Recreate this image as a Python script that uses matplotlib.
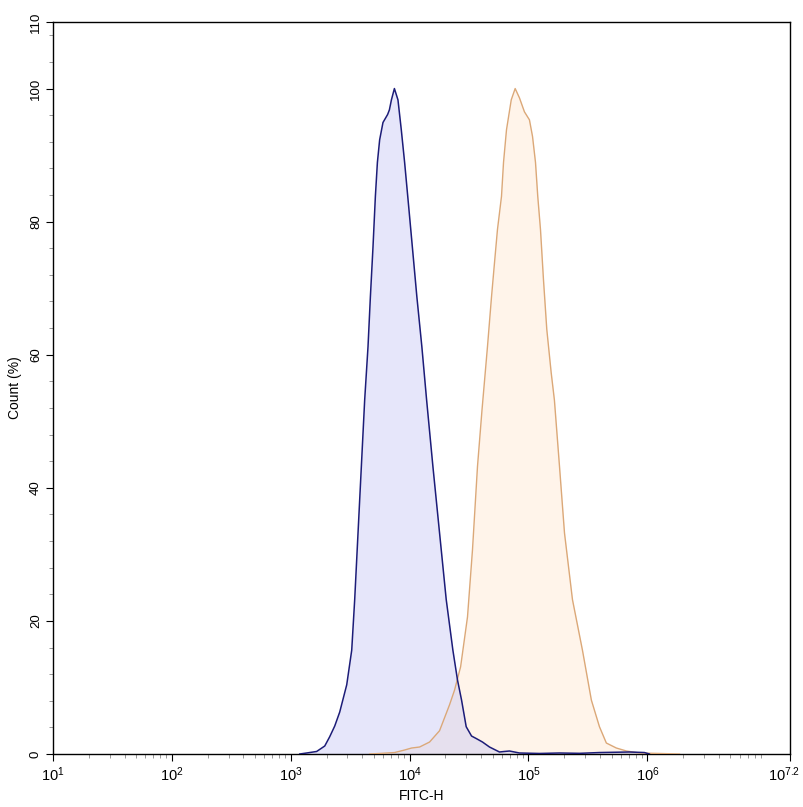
import numpy as np
import matplotlib
matplotlib.use("Agg")
import matplotlib.pyplot as plt
import matplotlib.transforms as mtransforms
from matplotlib.ticker import FixedLocator, NullFormatter, MultipleLocator

plt.rcParams['font.family'] = ['Liberation Sans', 'DejaVu Sans']
plt.rcParams['mathtext.fontset'] = 'custom'
plt.rcParams['mathtext.rm'] = 'Liberation Sans'
plt.rcParams['mathtext.it'] = 'Liberation Sans'

# Data (x as log10 of FITC-H, y as Count %)
blue_log = [3.076, 3.134, 3.218, 3.286, 3.328, 3.370, 3.412, 3.471, 3.513, 3.538,
            3.566, 3.594, 3.622, 3.650, 3.670, 3.692, 3.712, 3.729, 3.748, 3.776,
            3.815, 3.830, 3.847, 3.872, 3.902, 3.930, 3.958, 3.992, 4.023, 4.061,
            4.103, 4.143, 4.196, 4.252, 4.308, 4.364, 4.403, 4.437, 4.476, 4.521,
            4.563, 4.613, 4.672, 4.756, 4.798, 4.840, 4.924, 5.092, 5.261, 5.430,
            5.597, 5.849, 5.975, 6.017]
blue_cnt = [0.0, 0.15, 0.38, 1.2, 2.6, 4.2, 6.3, 10.4, 15.6, 23.2,
            33.2, 43.2, 53.2, 61.2, 68.7, 76.2, 83.8, 88.9, 92.3, 94.9,
            96.1, 96.8, 98.3, 100.0, 98.3, 93.8, 88.9, 82.3, 76.2, 68.7,
            61.2, 53.2, 43.2, 33.2, 23.2, 15.6, 11.1, 8.1, 4.1, 2.7,
            2.3, 1.8, 1.05, 0.3, 0.38, 0.45, 0.15, 0.08, 0.15, 0.1,
            0.22, 0.3, 0.22, 0.0]

orange_log = [3.664, 3.748, 3.874, 3.958, 4.017, 4.084, 4.168, 4.252, 4.336, 4.378,
              4.429, 4.487, 4.529, 4.571, 4.609, 4.655, 4.689, 4.714, 4.739, 4.773,
              4.790, 4.815, 4.855, 4.888, 4.924, 4.966, 5.008, 5.034, 5.059, 5.078,
              5.101, 5.126, 5.154, 5.191, 5.218, 5.261, 5.303, 5.370, 5.412, 5.454,
              5.529, 5.597, 5.655, 5.739, 5.824, 5.933, 6.101, 6.270]
orange_cnt = [0.0, 0.08, 0.22, 0.6, 0.9, 1.05, 1.8, 3.5, 7.4, 9.6,
              13.1, 20.6, 30.7, 43.2, 51.7, 61.2, 68.7, 73.8, 78.8, 83.8,
              88.9, 93.8, 98.3, 100.0, 98.6, 96.5, 95.3, 92.8, 88.9, 83.8,
              78.8, 71.3, 63.8, 57.3, 53.2, 43.2, 33.2, 23.2, 19.4, 15.6,
              8.1, 4.1, 1.65, 0.9, 0.45, 0.15, 0.08, 0.0]

xtick_exp = [1, 2, 3, 4, 5, 6, 7.2]
xtick_labels = [r'$10^{1}$', r'$10^{2}$', r'$10^{3}$', r'$10^{4}$', r'$10^{5}$', r'$10^{6}$', r'$10^{7.2}$']
ytick_vals = [0, 20, 40, 60, 80, 100, 110]

fig = plt.figure(figsize=(8.04, 8.07), dpi=100)
ax = fig.add_axes([53/804, 53/807, (790-53)/804, (754-22)/807])

bx = 10 ** np.array(blue_log)
ox = 10 ** np.array(orange_log)
ax.fill_between(ox, orange_cnt, 0, color='#ffe8d2', alpha=0.45, lw=0, zorder=1)
ax.fill_between(bx, blue_cnt, 0, color='#c8c8f4', alpha=0.45, lw=0, zorder=2)
ax.plot(ox, orange_cnt, color='#dba878', lw=1.0, zorder=3)
ax.plot(bx, blue_cnt, color='#1c1c78', lw=1.1, zorder=4)

ax.set_xscale('log')
ax.set_xlim(10 ** 1, 10 ** 7.2)
ax.set_ylim(0, 110)

ax.xaxis.set_major_locator(FixedLocator([10 ** e for e in xtick_exp]))
ax.set_xticklabels(xtick_labels, fontsize=10.5)
minor = []
for d in range(1, 7):
    for m in range(2, 10):
        v = m * 10 ** d
        if v < 10 ** 7.2:
            minor.append(v)
ax.xaxis.set_minor_locator(FixedLocator(minor))
ax.xaxis.set_minor_formatter(NullFormatter())

ax.yaxis.set_major_locator(FixedLocator(ytick_vals))
ax.set_yticklabels([str(v) for v in ytick_vals], rotation=90, va='center', fontsize=9.5)
ax.yaxis.set_minor_locator(MultipleLocator(4))

ax.tick_params(which='major', direction='out', length=5, width=0.8, color='black', pad=3)
ax.tick_params(which='minor', direction='out', length=3, width=0.6, color='#888888')
for s in ax.spines.values():
    s.set_linewidth(1.0)

# shift last x label slightly left so it stays inside the figure
last = ax.get_xticklabels()[-1]
last.set_transform(last.get_transform() + mtransforms.ScaledTranslation(-6/100, 0, fig.dpi_scale_trans))

ax.set_xlabel('FITC-H', fontsize=10, labelpad=4)
ax.set_ylabel('Count (%)', fontsize=10, labelpad=6)

fig.savefig('out.png', dpi=100)
